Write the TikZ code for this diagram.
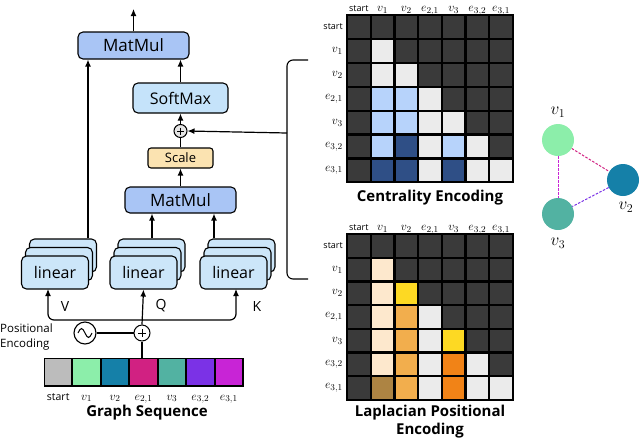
\documentclass[tikz,border=0pt]{standalone}
\usepackage{fontspec}
\setmainfont{Open Sans}
\usetikzlibrary{arrows.meta,calc}
\definecolor{mD}{HTML}{3A3A3A}
\definecolor{mG}{HTML}{EBEBEB}
\definecolor{mB}{HTML}{B7D3FB}
\definecolor{mN}{HTML}{2F4F86}
\definecolor{mC}{HTML}{FDE8CD}
\definecolor{mY}{HTML}{FDD923}
\definecolor{mO}{HTML}{F2AE4D}
\definecolor{mR}{HTML}{F18317}
\definecolor{mW}{HTML}{AD8443}
\definecolor{sS}{HTML}{BCBCBC}
\definecolor{sA}{HTML}{8CEEAA}
\definecolor{sB}{HTML}{1580A8}
\definecolor{sC}{HTML}{D12182}
\definecolor{sD}{HTML}{52B2A2}
\definecolor{sE}{HTML}{7B32E6}
\definecolor{sF}{HTML}{C824D6}
\definecolor{mmblue}{HTML}{A9C5F5}
\definecolor{smblue}{HTML}{C5E3FA}
\definecolor{linblue}{HTML}{CCE6F9}
\definecolor{scaleor}{HTML}{FBE3B1}
\begin{document}
\begin{tikzpicture}[x=1pt,y=-1pt,
  box/.style={draw=black, line width=1.1pt, rounded corners=5pt, inner sep=0pt, text=black},
  arr/.style={-{Latex[length=7pt,width=6pt]}, line width=1.2pt},
  ln/.style={line width=1.2pt},
  lin/.style={box, fill=linblue, minimum width=67pt, minimum height=33pt, font=\fontsize{16}{16}\selectfont},
  pl/.style={circle, draw=black, line width=1pt, inner sep=0pt},
  mlab/.style={font=\fontsize{13}{13}\selectfont, inner sep=0pt},
  ttl/.style={font=\fontsize{15}{18}\selectfont\bfseries, align=center, inner sep=0pt},
  gnode/.style={circle, minimum size=32pt, inner sep=0pt},
  gedge/.style={dash pattern=on 2.5pt off 1.5pt, line width=1pt}
]
\useasboundingbox (0,0) rectangle (640,440);

% ---- transformer block ----
\node[box, fill=mmblue, minimum width=111pt, minimum height=27pt, font=\fontsize{17}{17}\selectfont] (mm2) at (133.5,45.5) {MatMul};
\node[box, fill=smblue, minimum width=95pt, minimum height=30pt, font=\fontsize{16}{16}\selectfont] (sm) at (180.5,98) {SoftMax};
\node[pl, fill=gray!20, minimum size=13pt] (plus1) at (180.5,131) {};
\draw[line width=0.7pt] ($(plus1.center)+(-3.5,0)$) -- ($(plus1.center)+(3.5,0)$) ($(plus1.center)+(0,-3.5)$) -- ($(plus1.center)+(0,3.5)$);
\node[box, rounded corners=3pt, fill=scaleor, minimum width=65pt, minimum height=20pt, font=\fontsize{13}{13}\selectfont] (scale) at (180.5,158) {Scale};
\node[box, fill=mmblue, minimum width=111pt, minimum height=26pt, font=\fontsize{17}{17}\selectfont] (mm1) at (180.5,200) {MatMul};

\coordinate (topout) at (133.5,9);
\draw[arr] (mm2.north) -- (topout);
\draw[arr] (sm.north) -- (sm.north |- mm2.south);
\draw[arr] (plus1.north) -- (sm.south);
\draw[ln] (scale.north) -- (plus1.south);
\draw[arr] (mm1.north) -- (scale.south);

\foreach \n/\cx in {V/55,Q/143.5,K/233.5} {
  \node[lin] (lin\n b) at (\cx+8,255.5) {};
  \node[lin] (lin\n m) at (\cx+4,264) {};
  \node[lin] (lin\n) at (\cx,272.5) {linear};
}
\coordinate (vx) at (88,0);
\coordinate (qx) at (152,0);
\coordinate (kx) at (214,0);
\draw[arr] (linVb.north -| vx) -- (mm2.south -| vx);
\draw[arr] (linQb.north -| qx) -- (mm1.south -| qx);
\draw[arr] (linKb.north -| kx) -- (mm1.south -| kx);

\node[font=\fontsize{14}{14}\selectfont] (lV) at (65,306) {V};
\node[font=\fontsize{14}{14}\selectfont] (lQ) at (161,306) {Q};
\node[font=\fontsize{14}{14}\selectfont] (lK) at (257,306) {K};

% input routing
\node[pl, fill=white, minimum size=16pt] (plus2) at (142,333) {};
\draw[line width=0.8pt] ($(plus2.center)+(-4,0)$) -- ($(plus2.center)+(4,0)$) ($(plus2.center)+(0,-4)$) -- ($(plus2.center)+(0,4)$);
\node[pl, minimum size=22pt, line width=1.1pt] (sine) at (85,333) {};
\draw[line width=1pt] (78,333) sin (81.5,328.5) cos (85,333) sin (88.5,337.5) cos (92,333);
\draw[ln] (sine.east) -- (plus2.west);
\coordinate (rowy) at (0,320);
\coordinate (vin) at (48,289);
\coordinate (kin) at (236,289);
\draw[arr] (plus2.north) -- (linQ.south);
\draw[arr, rounded corners=6pt] (plus2.north |- rowy) -- (kin |- rowy) -- (kin);
\draw[arr, rounded corners=6pt] (plus2.north |- rowy) -- (vin |- rowy) -- (vin);

\node[align=left, anchor=west, font=\fontsize{11.5}{14.5}\selectfont, inner sep=0pt] (posenc) at (0,337) {Positional\\Encoding};

% sequence
\fill[black] (43.5,357.5) rectangle (243.5,386.5);
\foreach \c [count=\j] in {sS,sA,sB,sC,sD,sE,sF} {
  \fill[\c] ({44+(\j-1)*28.43+1},359) rectangle ++(26.4,26);
}
\coordinate (seqtop) at (142,357.5);
\draw[ln] (seqtop) -- (plus2.south);
\foreach \l [count=\j] in {{\fontsize{10.5}{10}\selectfont start},{$v_1$},{$v_2$},{$e_{2,1}$},{$v_3$},{$e_{3,2}$},{$e_{3,1}$}} {
  \node[mlab, anchor=base] at ({44+(\j-0.5)*28.43},400) {\l};
}
\node[ttl] (gseq) at (147,413) {Graph Sequence};

% bracket
\draw[line width=1.1pt, rounded corners=6pt] (308,60) -- (287,60) -- (287,279) -- (308,279);
\coordinate (brk) at (287,133);
\draw[arr] (brk) -- (plus1.east);

% matrices
\foreach \yo/\hh/\rows in {15/23.9/{{D,D,D,D,D,D,D},{D,G,D,D,D,D,D},{D,G,G,D,D,D,D},{D,B,B,G,D,D,D},{D,B,B,G,G,D,D},{D,B,N,G,B,G,D},{D,N,N,G,N,G,G}},
                          234/23.7/{{D,D,D,D,D,D,D},{D,C,D,D,D,D,D},{D,C,Y,D,D,D,D},{D,C,O,G,D,D,D},{D,C,O,G,Y,D,D},{D,C,O,G,R,G,D},{D,W,O,G,R,G,G}}} {
  \fill[black] (346,\yo-1) rectangle ({514},{\yo+7*\hh+1});
  \foreach \rl [count=\i] in \rows {
    \foreach \c [count=\j] in \rl {
      \fill[m\c] ({347+(\j-1)*23.7+1.1},{\yo+(\i-1)*\hh+1.1}) rectangle ++(21.5,{\hh-2.2});
    }
  }
  \foreach \l [count=\j] in {{\fontsize{9}{9}\selectfont start},{$v_1$},{$v_2$},{$e_{2,1}$},{$v_3$},{$e_{3,2}$},{$e_{3,1}$}} {
    \node[mlab, anchor=base] at ({347+(\j-0.5)*23.7},\yo-3.5) {\l};
    \node[mlab, anchor=east] at (343,{\yo+(\j-0.5)*\hh}) {\l};
  }
}
\node[ttl] (ce) at (430,198) {Centrality Encoding};
\node[ttl] (lpe) at (430,422) {Laplacian Positional\\Encoding};

% graph
\node[gnode, fill=sA] (g1) at (558,140) {};
\node[gnode, fill=sB] (g2) at (623,180) {};
\node[gnode, fill=sD] (g3) at (558,214) {};
\draw[gedge, sC] (g1) -- (g2);
\draw[gedge, sF] (g1) -- (g3);
\draw[gedge, sE] (g2) -- (g3);
\node[font=\fontsize{18}{18}\selectfont] (t1) at (558,112) {$v_1$};
\node[font=\fontsize{18}{18}\selectfont] (t2) at (626,207) {$v_2$};
\node[font=\fontsize{18}{18}\selectfont] (t3) at (558,243) {$v_3$};
\end{tikzpicture}
\end{document}
